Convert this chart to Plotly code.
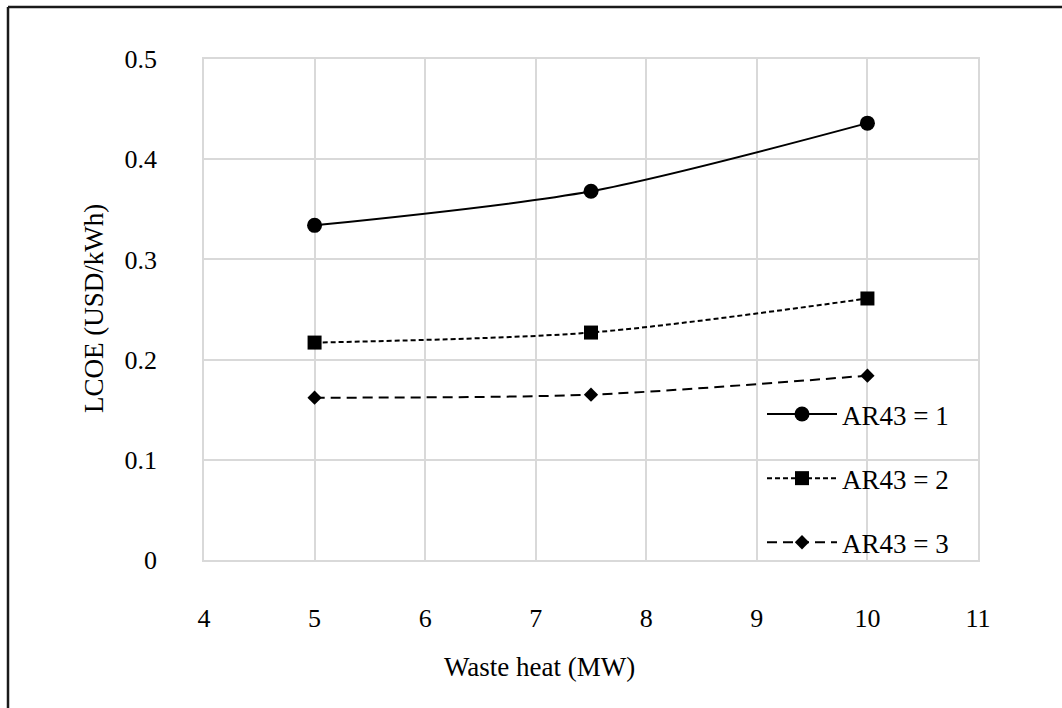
import plotly.graph_objects as go

# ---- data ----
waste_heat = [5, 7.5, 10]
ar43_1 = [0.334, 0.368, 0.436]
ar43_2 = [0.217, 0.227, 0.261]
ar43_3 = [0.162, 0.165, 0.184]
series_names = ["AR43 = 1", "AR43 = 2", "AR43 = 3"]
x_ticks = [4, 5, 6, 7, 8, 9, 10, 11]
y_ticks = [0, 0.1, 0.2, 0.3, 0.4, 0.5]

FONT = "Liberation Serif"
W, H = 1062, 708
L, R, T, B = 204, 84, 59, 148
pw, ph = W - L - R, H - T - B

def px_x(p):
    return (p - L) / pw

def px_y(p):
    return (H - B - p) / ph

fig = go.Figure()
styles = [
    dict(dash="solid", symbol="circle", size=15),
    dict(dash="5px,3px", symbol="square", size=14),
    dict(dash="10px,6px", symbol="diamond", size=11),
]
for i, (name, ys, st) in enumerate(zip(series_names, [ar43_1, ar43_2, ar43_3], styles)):
    fig.add_trace(go.Scatter(
        x=waste_heat, y=ys, name=name, mode="lines+markers",
        line=dict(color="#000000", width=2, dash=st["dash"], shape="spline", smoothing=0.8),
        marker=dict(symbol=st["symbol"], size=st["size"], color="#000000"),
        legendgroup=f"g{i}",
    ))

grid = "#d9d9d9"
fig.update_xaxes(
    range=[4, 11], tickvals=x_ticks, ticktext=[str(v) for v in x_ticks],
    showgrid=True, gridcolor=grid, gridwidth=1.5,
    showline=True, linecolor=grid, linewidth=1.5, mirror=True,
    zeroline=False, ticks="", ticklabelstandoff=34,
    tickfont=dict(family=FONT, size=26, color="#000000"),
)
fig.update_yaxes(
    range=[0, 0.5], tickvals=y_ticks, ticktext=[("0" if v == 0 else f"{v:.1f}") for v in y_ticks],
    showgrid=True, gridcolor=grid, gridwidth=1.5,
    showline=True, linecolor=grid, linewidth=1.5, mirror=True,
    zeroline=False, ticks="", ticklabelstandoff=40,
    tickfont=dict(family=FONT, size=26, color="#000000"),
)

fig.update_layout(
    width=W, height=H,
    margin=dict(l=L, r=R, t=T, b=B, autoexpand=False),
    paper_bgcolor="white", plot_bgcolor="white",
    font=dict(family=FONT, size=26, color="#000000"),
    showlegend=True,
    legend=dict(
        x=px_x(762), y=px_y(390), xanchor="left", yanchor="top",
        bgcolor="rgba(0,0,0,0)", borderwidth=0,
        font=dict(family=FONT, size=27, color="#000000"),
        itemwidth=70, traceorder="grouped", tracegroupgap=26,
    ),
    annotations=[
        dict(text="Waste heat (MW)", xref="paper", yref="paper",
             x=px_x(539), y=px_y(667), xanchor="center", yanchor="middle",
             showarrow=False, font=dict(family=FONT, size=27, color="#000000")),
        dict(text="LCOE (USD/kWh)", xref="paper", yref="paper",
             x=px_x(94), y=px_y(309), xanchor="center", yanchor="middle",
             textangle=-90, showarrow=False,
             font=dict(family=FONT, size=27, color="#000000")),
    ],
    shapes=[
        dict(type="line", xref="paper", yref="paper",
             x0=px_x(8), y0=px_y(7), x1=px_x(1080), y1=px_y(7),
             line=dict(color="#1a1a1a", width=2.5)),
        dict(type="line", xref="paper", yref="paper",
             x0=px_x(8), y0=px_y(7), x1=px_x(8), y1=px_y(720),
             line=dict(color="#1a1a1a", width=2.5)),
    ],
)

fig.write_html("out.html")
